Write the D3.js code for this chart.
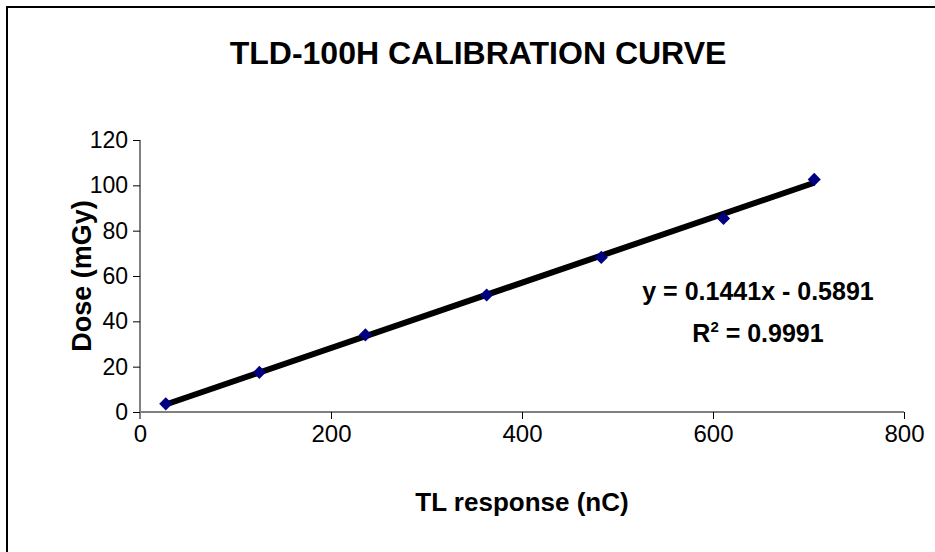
<!DOCTYPE html>
<html>
<head>
<meta charset="utf-8">
<script src="https://cdn.jsdelivr.net/npm/d3@7"></script>
<style>
  body { margin: 0; background: #fff; }
  svg { display: block; font-family: "Liberation Sans", Arial, sans-serif; }
</style>
</head>
<body>
<svg id="chart"></svg>
<script>
// measured points
const response = [27, 125, 236, 363, 483, 611, 706];
const dose = [3.6, 17.5, 34.0, 51.6, 68.2, 85.4, 102.6];
const xTicks = [0, 200, 400, 600, 800];
const yTicks = [0, 20, 40, 60, 80, 100, 120];
const slope = 0.1441;
const intercept = -0.5891;

const width = 935, height = 552;
const margin = { top: 140, right: 31, bottom: 140, left: 140 };

const svg = d3.select("#chart").attr("width", width).attr("height", height);

// outer frame (runs off the right/bottom edge like the original)
svg.append("path")
    .attr("d", `M7,${height + 5} V7 H${width + 5}`)
    .attr("fill", "none")
    .attr("stroke", "#000")
    .attr("stroke-width", 2);

const x = d3.scaleLinear().domain([0, 800]).range([margin.left, width - margin.right]);
const y = d3.scaleLinear().domain([0, 120]).range([height - margin.bottom, margin.top]);

const xAxis = svg.append("g")
    .attr("transform", `translate(0,${y(0)})`)
    .call(d3.axisBottom(x).tickValues(xTicks).tickSize(7).tickPadding(6));
xAxis.select(".domain").attr("stroke", "#000").attr("d", `M${x(0)},0H${x(800)}`);
xAxis.selectAll(".tick line").attr("stroke", "#000");
xAxis.selectAll("text").attr("font-size", 24).attr("fill", "#000").attr("font-family", null);

const yAxis = svg.append("g")
    .attr("transform", `translate(${x(0)},0)`)
    .call(d3.axisLeft(y).tickValues(yTicks).tickSize(7).tickPadding(5));
yAxis.select(".domain").attr("stroke", "#808080").attr("stroke-width", 2)
    .attr("d", `M0,${y(0) + 7}V${y(120)}`);
yAxis.selectAll(".tick line").attr("stroke", "#000");
yAxis.selectAll("text").attr("font-size", 23).attr("fill", "#000").attr("font-family", null);

// trendline
const x0 = d3.min(response), x1 = d3.max(response);
svg.append("line")
    .attr("x1", x(x0)).attr("y1", y(slope * x0 + intercept))
    .attr("x2", x(x1)).attr("y2", y(slope * x1 + intercept))
    .attr("stroke", "#000")
    .attr("stroke-width", 6);

// diamond markers
const diamond = d3.symbol().type(d3.symbolDiamond2).size(110);
svg.selectAll(".pt")
    .data(response.map((r, i) => ({ r: r, d: dose[i] })))
    .join("path")
    .attr("class", "pt")
    .attr("d", diamond)
    .attr("transform", d => `translate(${x(d.r)},${y(d.d)})`)
    .attr("fill", "#000080");

// title and labels
svg.append("text")
    .attr("x", 478).attr("y", 64)
    .attr("text-anchor", "middle")
    .attr("font-size", 32).attr("font-weight", "bold")
    .text("TLD-100H CALIBRATION CURVE");

svg.append("text")
    .attr("x", (x(0) + x(800)) / 2).attr("y", 511)
    .attr("text-anchor", "middle")
    .attr("font-size", 26).attr("font-weight", "bold")
    .text("TL response (nC)");

svg.append("text")
    .attr("transform", `translate(91,${(y(0) + y(120)) / 2}) rotate(-90)`)
    .attr("text-anchor", "middle")
    .attr("font-size", 27).attr("font-weight", "bold")
    .text("Dose (mGy)");

// regression equation
svg.append("text")
    .attr("x", 758).attr("y", 300)
    .attr("text-anchor", "middle")
    .attr("font-size", 25).attr("font-weight", "bold")
    .text(`y = ${slope}x - ${Math.abs(intercept)}`);

const r2 = svg.append("text")
    .attr("x", 758).attr("y", 342)
    .attr("text-anchor", "middle")
    .attr("font-size", 25).attr("font-weight", "bold");
r2.append("tspan").text("R");
r2.append("tspan").attr("dy", -10).attr("font-size", 15).text("2");
r2.append("tspan").attr("dy", 10).text(" = 0.9991");
</script>
</body>
</html>
